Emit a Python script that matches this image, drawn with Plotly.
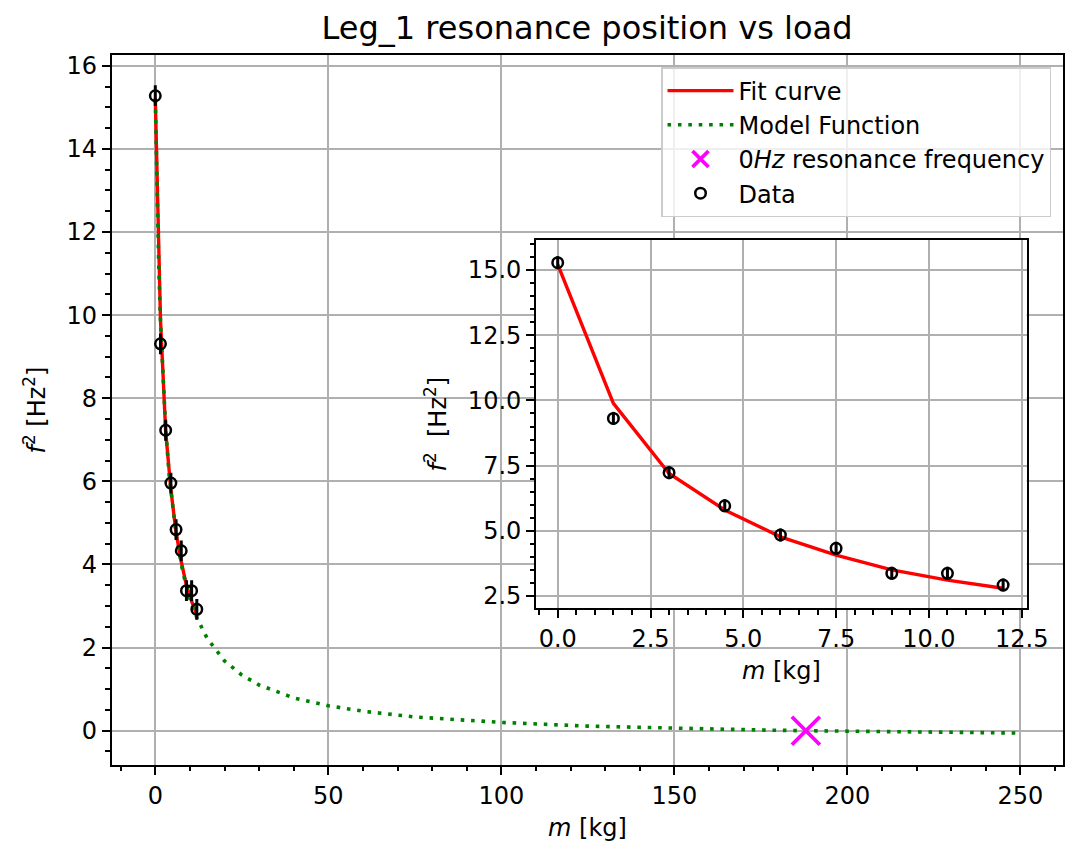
import plotly.graph_objects as go

# ---------------- data ----------------
mass_kg = [0.0, 1.5, 3.0, 4.5, 6.0, 7.5, 9.0, 10.5, 12.0]
f2_data = [15.28, 9.31, 7.23, 5.96, 4.84, 4.33, 3.37, 3.37, 2.92]
f2_err = [0.25, 0.25, 0.25, 0.25, 0.25, 0.25, 0.25, 0.25, 0.25]

fit_f2 = [15.22, 9.89, 7.20, 5.80, 4.77, 4.07, 3.50, 3.11, 2.80]

model_m = [0, 0.5, 1, 1.5, 2, 3, 4, 5, 6, 8, 10, 12, 15, 20, 25, 30, 40, 50,
           60, 75, 100, 125, 150, 175, 188, 200, 225, 250]
model_f2 = [15.2, 12.88, 11.17, 9.85, 8.81, 7.26, 6.16, 5.35, 4.72, 3.80, 3.17,
            2.72, 2.22, 1.68, 1.34, 1.10, 0.79, 0.60, 0.47, 0.33, 0.20, 0.11,
            0.057, 0.017, 0.0, -0.014, -0.037, -0.056]

zero_m = [188.0]
zero_f2 = [0.0]

FONT = "DejaVu Sans"
fs = 24

fig = go.Figure()

# main axes traces
fig.add_trace(go.Scatter(x=mass_kg, y=fit_f2, mode="lines", name="Fit curve",
                         line=dict(color="red", width=3.4), xaxis="x", yaxis="y"))
fig.add_trace(go.Scatter(x=model_m, y=model_f2, mode="lines", name="Model Function",
                         line=dict(color="green", width=3.6, dash="3.6px,6.8px"),
                         xaxis="x", yaxis="y"))
fig.add_trace(go.Scatter(x=zero_m, y=zero_f2, mode="markers",
                         name="0<i>Hz</i> resonance frequency",
                         marker=dict(symbol="x-thin", size=28, color="magenta",
                                     line=dict(color="magenta", width=3.8)),
                         xaxis="x", yaxis="y"))
fig.add_trace(go.Scatter(x=mass_kg, y=f2_data, mode="markers", name="Data",
                         marker=dict(symbol="circle-open", size=10.5, color="black",
                                     line=dict(color="black", width=2.5)),
                         error_y=dict(type="data", array=f2_err, visible=True,
                                      thickness=3, width=0, color="black"),
                         xaxis="x", yaxis="y"))

# inset traces
fig.add_trace(go.Scatter(x=mass_kg, y=fit_f2, mode="lines", showlegend=False,
                         line=dict(color="red", width=3.4), xaxis="x2", yaxis="y2"))
fig.add_trace(go.Scatter(x=mass_kg, y=f2_data, mode="markers", showlegend=False,
                         marker=dict(symbol="circle-open", size=10.5, color="black",
                                     line=dict(color="black", width=2.5)),
                         error_y=dict(type="data", array=f2_err, visible=True,
                                      thickness=3, width=0, color="black"),
                         xaxis="x2", yaxis="y2"))

axis_common = dict(
    showline=True, linecolor="black", linewidth=1.8, mirror=True,
    ticks="outside", ticklen=8, tickwidth=1.8, tickcolor="black",
    showgrid=True, gridcolor="#b0b0b0", gridwidth=1.8,
    zeroline=False, automargin=False,
    tickfont=dict(family=FONT, size=fs, color="black"),
)

W, H = 1076, 850
fig.update_layout(
    width=W, height=H,
    margin=dict(l=0, r=0, t=0, b=0),
    paper_bgcolor="white", plot_bgcolor="white",
    font=dict(family=FONT, size=fs, color="black"),
    title=dict(text="Leg_1 resonance position vs load", x=587 / W, xanchor="center",
               y=1 - 28 / H, yanchor="middle", font=dict(family=FONT, size=32, color="black")),
    xaxis=dict(domain=[111.7 / W, 1063.3 / W], range=[-12.6, 262.4], tick0=0, dtick=50,
               title=dict(text="<i>m</i> [kg]", standoff=10, font=dict(size=fs)),
               minor=dict(dtick=10, tick0=0, ticks="outside", ticklen=4.5, tickwidth=1.5,
                          tickcolor="black", showgrid=False),
               anchor="y", **axis_common),
    yaxis=dict(domain=[1 - 765 / H, 1 - 55 / H], range=[-0.825, 16.26], tick0=0, dtick=2,
               title=dict(text="<i>f</i><sup>2</sup> [Hz<sup>2</sup>]", standoff=14, font=dict(size=fs)),
               minor=dict(dtick=0.5, tick0=0, ticks="outside", ticklen=4.5, tickwidth=1.5,
                          tickcolor="black", showgrid=False),
               anchor="x", **axis_common),
    xaxis2=dict(domain=[536 / W, 1026.7 / W], range=[-0.585, 12.635], tick0=0, dtick=2.5,
                tickformat=".1f",
                title=dict(text="<i>m</i> [kg]", standoff=10, font=dict(size=fs)),
                minor=dict(dtick=0.5, tick0=0, ticks="outside", ticklen=4.5, tickwidth=1.5,
                           tickcolor="black", showgrid=False),
                anchor="y2", **axis_common),
    yaxis2=dict(domain=[1 - 608.3 / H, 1 - 240 / H], range=[2.03, 16.15], tick0=0, dtick=2.5,
                tickformat=".1f",
                title=dict(text="<i>f</i><sup>2</sup>\u00a0\u00a0[Hz<sup>2</sup>]", standoff=14,
                           font=dict(size=fs)),
                minor=dict(dtick=0.5, tick0=0, ticks="outside", ticklen=4.5, tickwidth=1.5,
                           tickcolor="black", showgrid=False),
                anchor="x2", **axis_common),
    legend=dict(x=1051 / W, xanchor="right", y=1 - 67 / H, yanchor="top",
                bgcolor="rgba(255,255,255,0.8)", bordercolor="#cccccc", borderwidth=1.5,
                itemwidth=66,
                font=dict(family=FONT, size=fs, color="black")),
)

fig.write_html("out.html")
